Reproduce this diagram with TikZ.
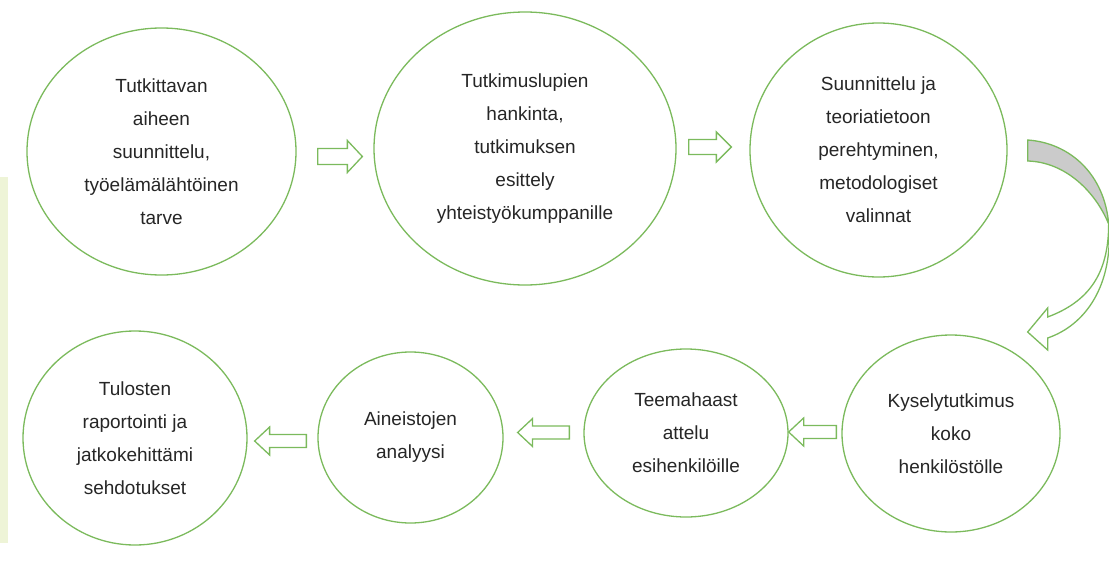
\documentclass[tikz,border=0pt]{standalone}
\usepackage{fontspec}
\setmainfont{Liberation Sans}
\usepackage{tikz}
\usetikzlibrary{shapes.geometric,calc}

\definecolor{stepgreen}{HTML}{7BBA5C}
\definecolor{stripgreen}{HTML}{EEF4D7}
\definecolor{twistgray}{HTML}{CBCBCB}

% hollow block arrow: tail, tip, half shaft, half head
\newcommand{\blockarrow}[4]{%
  \draw[fatline] let \p1=#1, \p2=#2, \p3=($#2!15pt!#1$) in
    (\x1,\y1+#3) -- (\x3,\y1+#3) -- (\x3,\y1+#4) -- (\x2,\y1)
    -- (\x3,\y1-#4) -- (\x3,\y1-#3) -- (\x1,\y1-#3) -- cycle;}

\begin{document}
\begin{tikzpicture}[x=1pt, y=-1pt,
  stepnode/.style={ellipse, draw=stepgreen, line width=1.3pt, fill=white, align=center, inner sep=0pt, text=black!85, font=\fontsize{19}{33}\selectfont},
  fatline/.style={draw=stepgreen, line width=1.3pt, fill=white, line join=miter},
]
\useasboundingbox (0,0) rectangle (1109,562);
\fill[stripgreen] (0,177) rectangle (8,543);

% Top row
\node[stepnode, minimum width=269pt, minimum height=247pt] (c1) at (161.5,151.5) {Tutkittavan\\aiheen\\suunnittelu,\\työelämälähtöinen\\tarve};
\node[stepnode, minimum width=302pt, minimum height=273pt] (c2) at (525,148.5) {Tutkimuslupien\\hankinta,\\tutkimuksen\\esittely\\yhteistyökumppanille};
\node[stepnode, minimum width=257pt, minimum height=254pt] (c3) at (878.5,150) {Suunnittelu ja\\teoriatietoon\\perehtyminen,\\metodologiset\\valinnat};

% Bottom row
\node[stepnode, minimum width=218pt, minimum height=197pt] (c4) at (951,433.5) {Kyselytutkimus\\koko\\henkilöstölle};
\node[stepnode, minimum width=204pt, minimum height=168pt] (c5) at (686,433) {Teemahaast\\attelu\\esihenkilöille};
\node[stepnode, minimum width=185pt, minimum height=171pt] (c6) at (410.5,437.5) {Aineistojen\\analyysi};
\node[stepnode, minimum width=224pt, minimum height=214pt] (c7) at (135,438) {Tulosten\\raportointi ja\\jatkokehittämi\\sehdotukset};

% Straight arrows
\coordinate (a1s) at ($(c1.east)+(21,5)$);
\coordinate (a1e) at ($(c2.west)+(-11,8)$);
\coordinate (a2s) at ($(c2.east)+(12,-1.5)$);
\coordinate (a2e) at ($(c3.west)+(-18,0)$);
\coordinate (a3s) at ($(c4.west)+(-5,-1.5)$);
\coordinate (a3e) at ($(c5.east)+(0,0)$);
\coordinate (a4s) at ($(c5.west)+(-14,-0.5)$);
\coordinate (a4e) at ($(c6.east)+(14,0)$);
\coordinate (a5s) at ($(c6.west)+(-11,3.5)$);
\coordinate (a5e) at ($(c7.east)+(7,0)$);
\blockarrow{(a1s)}{(a1e)}{8pt}{16pt}
\blockarrow{(a2s)}{(a2e)}{7.5pt}{15pt}
\blockarrow{(a3s)}{(a3e)}{6.5pt}{14pt}
\blockarrow{(a4s)}{(a4e)}{6.5pt}{14pt}
\blockarrow{(a5s)}{(a5e)}{6.5pt}{14pt}

% Curved arrow down to the bottom row
\begin{scope}[shift={(c3.east)}]
  \draw[fatline, fill=twistgray] (20,-10) .. controls (63,-7) and (97,25) .. (101,74)
    .. controls (88,42) and (58,12) .. (20,11) -- cycle;
  \draw[fatline] (101,74) .. controls (106,135) and (78,175) .. (40,188) -- (40,200) -- (20,182)
    -- (40,158) -- (40,167) .. controls (80,152) and (101,125) .. (101,74) -- cycle;
\end{scope}
\end{tikzpicture}
\end{document}
